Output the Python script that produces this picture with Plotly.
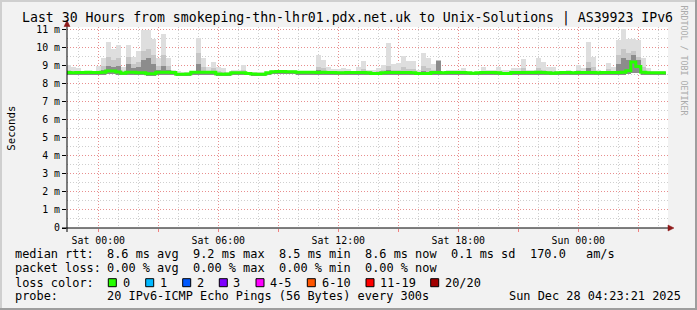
import plotly.graph_objects as go
from datetime import datetime, timedelta

# ---------------- data ----------------
start_time = "2025-12-26 22:30"      # first 15-minute sample
step_minutes = 15

median_rtt = [
    8.62, 8.60, 8.62, 8.62, 8.63, 8.62, 8.62, 8.64, 8.70, 8.70,
    8.65, 8.58, 8.63, 8.64, 8.60, 8.60, 8.55, 8.55, 8.63, 8.64,
    8.64, 8.62, 8.52, 8.52, 8.53, 8.63, 8.64, 8.64, 8.64, 8.64,
    8.53, 8.52, 8.54, 8.60, 8.60, 8.60, 8.56, 8.54, 8.52, 8.52,
    8.60, 8.66, 8.67, 8.67, 8.66, 8.66, 8.64, 8.64, 8.63, 8.64,
    8.62, 8.63, 8.62, 8.62, 8.60, 8.61, 8.62, 8.62, 8.62, 8.62,
    8.60, 8.56, 8.56, 8.61, 8.62, 8.62, 8.62, 8.62, 8.62, 8.60,
    8.56, 8.56, 8.57, 8.62, 8.62, 8.60, 8.62, 8.62, 8.62, 8.62,
    8.60, 8.58, 8.60, 8.62, 8.62, 8.62, 8.61, 8.56, 8.57, 8.62,
    8.62, 8.62, 8.62, 8.62, 8.63, 8.62, 8.60, 8.58, 8.60, 8.62,
    8.62, 8.60, 8.62, 8.62, 8.62, 8.62, 8.60, 8.62, 8.62, 8.62,
    8.62, 8.63, 8.72, 9.20, 8.95, 8.63, 8.60, 8.60, 8.60, 8.60,
]

smoke_min = [
    8.50, 8.48, 8.50, 8.50, 8.50, 8.50, 8.50, 8.50, 8.52, 8.52,
    8.50, 8.46, 8.50, 8.50, 8.48, 8.48, 8.45, 8.45, 8.50, 8.50,
    8.50, 8.50, 8.44, 8.44, 8.45, 8.50, 8.50, 8.50, 8.50, 8.50,
    8.45, 8.44, 8.45, 8.48, 8.48, 8.48, 8.46, 8.45, 8.44, 8.44,
    8.48, 8.52, 8.53, 8.53, 8.52, 8.52, 8.50, 8.50, 8.50, 8.50,
    8.50, 8.50, 8.50, 8.50, 8.48, 8.49, 8.50, 8.50, 8.50, 8.50,
    8.48, 8.46, 8.46, 8.49, 8.50, 8.50, 8.50, 8.50, 8.50, 8.48,
    8.46, 8.46, 8.47, 8.50, 8.50, 8.48, 8.50, 8.50, 8.50, 8.50,
    8.48, 8.47, 8.48, 8.50, 8.50, 8.50, 8.49, 8.46, 8.47, 8.50,
    8.50, 8.50, 8.50, 8.50, 8.50, 8.50, 8.48, 8.47, 8.48, 8.50,
    8.50, 8.48, 8.50, 8.50, 8.50, 8.50, 8.48, 8.50, 8.50, 8.50,
    8.50, 8.50, 8.55, 8.60, 8.60, 8.50, 8.48, 8.48, 8.48, 8.48,
]

smoke_max = [
    9.05, 8.95, 8.85, 8.72, 8.70, 8.70, 9.00, 9.45, 10.30, 9.90,
    10.15, 8.95, 10.15, 9.50, 9.80, 10.95, 11.00, 10.50, 9.40, 10.75,
    9.40, 8.75, 8.68, 8.65, 8.65, 8.70, 10.55, 9.40, 8.90, 9.20,
    8.95, 8.85, 8.65, 8.75, 8.75, 9.05, 8.65, 8.65, 8.65, 8.65,
    8.65, 8.75, 8.75, 8.75, 8.75, 8.75, 8.70, 8.70, 8.70, 8.72,
    9.60, 9.30, 8.90, 8.80, 8.80, 8.85, 8.80, 8.70, 8.90, 9.25,
    8.75, 8.75, 8.85, 9.05, 10.25, 9.10, 9.15, 9.55, 9.25, 9.25,
    8.75, 9.70, 9.40, 9.07, 9.30, 8.65, 8.75, 8.75, 8.75, 8.85,
    8.67, 8.67, 8.67, 8.90, 8.75, 8.75, 8.90, 8.75, 8.75, 8.85,
    8.85, 9.35, 8.75, 8.75, 9.40, 9.20, 8.90, 8.95, 8.70, 8.70,
    8.75, 8.67, 9.05, 8.85, 10.30, 9.50, 8.75, 8.70, 9.15, 8.95,
    10.40, 11.05, 10.50, 10.50, 10.40, 9.40, 8.85, 8.70, 8.70, 8.70,
]

smoke_mid = [
    8.75, 8.70, 8.70, 8.68, 8.68, 8.68, 8.72, 9.00, 9.50, 9.30,
    9.40, 8.72, 9.50, 9.10, 9.20, 9.80, 9.90, 9.60, 9.00, 9.60,
    9.00, 8.70, 8.62, 8.60, 8.60, 8.68, 9.70, 8.90, 8.72, 8.85,
    8.70, 8.65, 8.60, 8.68, 8.68, 8.75, 8.62, 8.60, 8.60, 8.60,
    8.62, 8.70, 8.70, 8.70, 8.70, 8.70, 8.68, 8.68, 8.68, 8.68,
    8.95, 8.85, 8.72, 8.70, 8.68, 8.70, 8.70, 8.66, 8.72, 8.80,
    8.68, 8.64, 8.70, 8.75, 9.00, 8.75, 8.75, 8.95, 8.80, 8.80,
    8.64, 9.00, 8.85, 8.75, 9.30, 8.64, 8.68, 8.68, 8.68, 8.72,
    8.64, 8.62, 8.64, 8.72, 8.68, 8.68, 8.72, 8.64, 8.64, 8.70,
    8.70, 8.85, 8.68, 8.68, 8.85, 8.78, 8.70, 8.72, 8.64, 8.66,
    8.68, 8.64, 8.78, 8.70, 9.20, 8.90, 8.66, 8.66, 8.80, 8.72,
    9.60, 9.90, 9.70, 9.80, 9.50, 8.90, 8.70, 8.66, 8.66, 8.66,
]

smoke_dark = [
    8.66, 8.64, 8.65, 8.65, 8.66, 8.65, 8.66, 8.75, 9.00, 8.90,
    9.00, 8.65, 9.10, 8.85, 8.90, 9.30, 9.40, 9.10, 8.75, 9.00,
    8.75, 8.65, 8.56, 8.56, 8.57, 8.66, 9.10, 8.70, 8.66, 8.70,
    8.58, 8.56, 8.57, 8.63, 8.63, 8.66, 8.59, 8.57, 8.56, 8.56,
    8.63, 8.69, 8.70, 8.70, 8.69, 8.69, 8.67, 8.67, 8.66, 8.67,
    8.75, 8.70, 8.66, 8.65, 8.63, 8.64, 8.65, 8.65, 8.65, 8.68,
    8.63, 8.59, 8.60, 8.65, 8.75, 8.66, 8.66, 8.72, 8.68, 8.66,
    8.59, 8.70, 8.66, 8.66, 9.25, 8.63, 8.65, 8.65, 8.65, 8.66,
    8.63, 8.61, 8.63, 8.66, 8.65, 8.65, 8.65, 8.59, 8.60, 8.65,
    8.65, 8.70, 8.65, 8.65, 8.70, 8.66, 8.63, 8.62, 8.63, 8.65,
    8.65, 8.63, 8.68, 8.65, 8.85, 8.72, 8.63, 8.65, 8.68, 8.66,
    9.10, 9.40, 9.30, 9.60, 9.30, 8.72, 8.63, 8.63, 8.63, 8.63,
]

y_tick_values = [0, 1, 2, 3, 4, 5, 6, 7, 8, 9, 10, 11]
y_tick_labels = ["0", "1 m", "2 m", "3 m", "4 m", "5 m", "6 m",
                 "7 m", "8 m", "9 m", "10 m", "11 m"]
x_tick_values = ["2025-12-27 00:00", "2025-12-27 03:00", "2025-12-27 06:00",
                 "2025-12-27 09:00", "2025-12-27 12:00", "2025-12-27 15:00",
                 "2025-12-27 18:00", "2025-12-27 21:00", "2025-12-28 00:00",
                 "2025-12-28 03:00"]
x_tick_labels = ["Sat 00:00", "", "Sat 06:00", "", "Sat 12:00", "",
                 "Sat 18:00", "", "Sun 00:00", ""]

title_text = "Last 30 Hours from smokeping-thn-lhr01.pdx.net.uk to Unix-Solutions | AS39923 IPv6"
rtt_stats = ["8.6 ms avg", "9.2 ms max", "8.5 ms min", "8.6 ms now", "0.1 ms sd", "170.0", "am/s"]
loss_stats = ["0.00 % avg", "0.00 % max", "0.00 % min", "0.00 % now"]
loss_labels = ["0", "1", "2", "3", "4-5", "6-10", "11-19", "20/20"]
loss_colors = ["#26ff00", "#00b8ff", "#0059ff", "#7e00ff", "#ff00ff",
               "#ff5500", "#ff0000", "#a10000"]
probe_text = "20 IPv6-ICMP Echo Pings (56 Bytes) every 300s"
stamp_text = "Sun Dec 28 04:23:21 2025"

# ---------------- geometry ----------------
W, H = 697, 310
L, R, T, B = 67, 29, 27, 82
PW, PH = W - L - R, H - T - B
PX_PER_HOUR = 20.0
SAT0_PX = 98.3

def px(x):
    return (x - L) / PW

def py(y):
    return (H - B - y) / PH

sat0 = datetime(2025, 12, 27, 0, 0)
x_left = sat0 - timedelta(hours=(SAT0_PX - L) / PX_PER_HOUR)
x_right = x_left + timedelta(hours=PW / PX_PER_HOUR)
y_top = PH / 18.04

t0 = datetime.strptime(start_time, "%Y-%m-%d %H:%M")
step = timedelta(minutes=step_minutes)
times = [t0 + step * i for i in range(len(median_rtt))]
bar_w = step_minutes * 60 * 1000

fig = go.Figure()

def smoke(lo, hi, color):
    fig.add_trace(go.Bar(
        x=times, base=lo, y=[h - l for h, l in zip(hi, lo)],
        width=bar_w, marker=dict(color=color, line=dict(width=0)),
        hoverinfo="skip"))

smoke(smoke_min, smoke_max, "#dedede")
smoke(smoke_min, smoke_mid, "#c6c6c6")
smoke(smoke_min, smoke_dark, "#8c8c8c")

# median as a step line
edges = [t - step / 2 for t in times] + [times[-1] + step / 2]
fig.add_trace(go.Scatter(
    x=edges, y=median_rtt + [median_rtt[-1]], mode="lines",
    line=dict(color=loss_colors[0], width=3, shape="hv"),
    hoverinfo="skip"))

mono = "DejaVu Sans Mono"
dot = "1px,2px"

fig.update_layout(
    width=W, height=H,
    margin=dict(l=L, r=R, t=T, b=B, pad=0),
    paper_bgcolor="#f2f2f2", plot_bgcolor="#ffffff",
    showlegend=False, barmode="overlay", bargap=0,
    font=dict(family=mono, size=11.9, color="#000000"),
)
fig.update_xaxes(
    type="date", range=[x_left, x_right],
    tickmode="array", tickvals=x_tick_values, ticktext=x_tick_labels,
    showgrid=True, gridcolor="rgba(240,120,120,0.75)", griddash=dot, gridwidth=1,
    minor=dict(tick0="2025-12-27 00:00", dtick=3600000, showgrid=True,
               gridcolor="#cfcfcf", griddash=dot, gridwidth=1, ticks=""),
    ticks="outside", ticklen=3, tickcolor="#f08080",
    tickfont=dict(family=mono, size=9.9, color="#000000"),
    showline=False, zeroline=False, fixedrange=True,
)
fig.update_yaxes(
    range=[0, y_top],
    tickmode="array", tickvals=y_tick_values, ticktext=y_tick_labels,
    showgrid=True, gridcolor="rgba(240,120,120,0.75)", griddash=dot, gridwidth=1,
    minor=dict(tick0=0, dtick=0.5, showgrid=True, gridcolor="#cfcfcf",
               griddash=dot, gridwidth=1, ticks=""),
    ticks="outside", ticklen=4, tickcolor="#000000",
    tickfont=dict(family=mono, size=9.9, color="#000000"),
    showline=False, zeroline=False, fixedrange=True,
)

shapes = []
# frame of the image
for (xa, ya, xb, yb, c) in [
    (0, 0, W, 2, "#cfcfcf"), (0, 0, 2, H, "#cfcfcf"),
    (0, H - 2, W, H, "#9e9e9e"), (W - 2, 0, W, H, "#9e9e9e")]:
    shapes.append(dict(type="rect", xref="paper", yref="paper",
                       x0=px(xa), x1=px(xb), y0=py(yb), y1=py(ya),
                       line=dict(width=0), fillcolor=c, layer="above"))
# axes lines and arrows
shapes.append(dict(type="line", xref="paper", yref="paper",
                   x0=px(62), x1=px(669), y0=py(228), y1=py(228),
                   line=dict(color="#000000", width=1)))
shapes.append(dict(type="line", xref="paper", yref="paper",
                   x0=px(L), x1=px(L), y0=py(232), y1=py(25),
                   line=dict(color="#000000", width=1)))
arrow = "#8f1a1a"
shapes.append(dict(type="path", xref="paper", yref="paper",
                   path="M {} {} L {} {} L {} {} Z".format(
                       px(668), py(225), px(674), py(228), px(668), py(231)),
                   fillcolor=arrow, line=dict(color=arrow, width=0.5)))
shapes.append(dict(type="path", xref="paper", yref="paper",
                   path="M {} {} L {} {} L {} {} Z".format(
                       px(L - 3), py(26.5), px(L), py(20.5), px(L + 3), py(26.5)),
                   fillcolor=arrow, line=dict(color=arrow, width=0.5)))

annotations = []

def text(x, y, s, size=11.9, family=mono, color="#000000", xanchor="left",
         angle=0):
    annotations.append(dict(
        xref="paper", yref="paper", x=px(x), y=py(y), text=s.replace(" ", "\u00a0"),
        showarrow=False, xanchor=xanchor, yanchor="middle", textangle=angle,
        borderpad=0, borderwidth=0,
        font=dict(family=family, size=size, color=color)))

text(347.5, 18.5, title_text, size=13.2, xanchor="center")
text(683.5, 60, "RRDTOOL / TOBI OETIKER", size=8.3, color="#ababab",
     xanchor="center", angle=90)
text(10.7, 128, "Seconds", size=10.7, xanchor="center", angle=-90)

col_x = [106.5, 192.5, 278.5, 365.2, 450.9, 529.9, 585.8]
row_y = [254.3, 268.3, 282.5, 296.2]

text(15.3, row_y[0], "median rtt:")
for s, x in zip(rtt_stats, col_x):
    text(x, row_y[0], s)
text(15.3, row_y[1], "packet loss:")
for s, x in zip(loss_stats, col_x):
    text(x, row_y[1], s)
text(15.3, row_y[2], "loss color:")
box_x = [108.3, 145.7, 182.7, 219.3, 256.0, 307.3, 366.0, 430.7]
for lab, c, bx in zip(loss_labels, loss_colors, box_x):
    shapes.append(dict(type="rect", xref="paper", yref="paper",
                       x0=px(bx), x1=px(bx + 8), y0=py(286.7), y1=py(278.7),
                       fillcolor=c, line=dict(color="#000000", width=1)))
    text(bx + 14.2, row_y[2], lab)
text(15.3, row_y[3], "probe:")
text(106.5, row_y[3], probe_text)
text(681, row_y[3], stamp_text, xanchor="right")

fig.update_layout(shapes=shapes, annotations=annotations)
fig.write_html("out.html")
